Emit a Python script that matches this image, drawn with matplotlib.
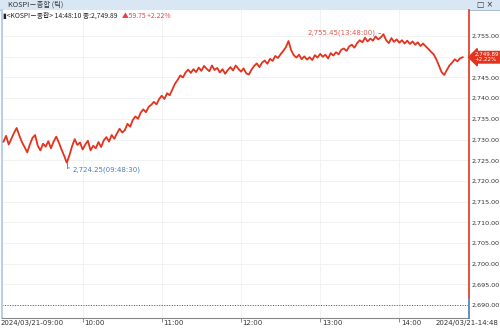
import matplotlib
matplotlib.use("Agg")
import matplotlib.pyplot as plt
from matplotlib.patches import Rectangle
from matplotlib.transforms import blended_transform_factory

# ---------------- data ----------------
start_time = "09:00"
step_minutes = 2
prices = [
    2729.5, 2730.9, 2728.8, 2730.2, 2731.6, 2732.8, 2731.0, 2729.4, 2728.2, 2726.9,  # 0-18
    2728.8, 2730.4, 2731.1, 2728.5, 2727.4, 2729.0, 2728.3, 2729.6, 2727.9, 2729.5,  # 20-38
    2730.7, 2729.3, 2727.6, 2726.1, 2724.4, 2726.2, 2728.4, 2730.1, 2728.7, 2729.3,  # 40-58
    2727.6, 2728.8, 2729.7, 2727.4, 2728.5, 2727.9, 2729.4, 2728.2, 2729.8, 2730.6,  # 60-78
    2729.5, 2731.1, 2730.2, 2731.5, 2732.6, 2731.7, 2732.3, 2733.8, 2733.1, 2734.7,  # 80-98
    2735.6, 2735.0, 2736.5, 2737.3, 2736.6, 2737.9, 2738.4, 2739.1, 2738.5, 2739.8,  # 100-118
    2740.6, 2739.8, 2741.2, 2740.7, 2742.1, 2743.5, 2744.4, 2745.5, 2745.0, 2746.2,  # 120-138
    2746.9, 2746.1, 2747.0, 2746.3, 2747.4, 2746.6, 2747.8, 2747.1, 2746.5, 2747.9,  # 140-158
    2746.8, 2747.3, 2746.2, 2747.0, 2745.9, 2746.8, 2747.5, 2746.7, 2747.9, 2747.1,  # 160-178
    2746.4, 2747.2, 2746.0, 2745.7, 2746.9, 2747.8, 2748.4, 2747.5, 2748.6, 2749.1,  # 180-198
    2748.3, 2749.5, 2749.0, 2750.2, 2749.7, 2750.6, 2751.4, 2752.3, 2753.8, 2751.6,  # 200-218
    2750.4, 2749.8, 2750.5, 2749.4, 2750.1, 2749.3, 2749.9, 2749.2, 2750.4, 2749.8,  # 220-238
    2750.7, 2750.0, 2750.5, 2749.6, 2750.9, 2750.3, 2751.1, 2750.6, 2751.7, 2752.0,  # 240-258
    2751.4, 2752.5, 2752.9, 2752.2, 2753.3, 2754.0, 2753.5, 2754.6, 2753.7, 2754.4,  # 260-278
    2753.9, 2754.9, 2754.2, 2754.7, 2755.45, 2754.0, 2753.3, 2754.5, 2753.6, 2754.2,  # 280-298
    2753.4, 2754.0, 2753.2, 2753.9, 2753.1, 2753.7, 2752.9, 2753.5, 2752.6, 2753.2,  # 300-318
    2752.5, 2751.9, 2751.2, 2750.6, 2749.4, 2747.9, 2746.3, 2745.6, 2746.8, 2747.9,  # 320-338
    2748.6, 2749.4, 2748.9, 2749.6, 2749.89,                                         # 340-348
]
max_label = "2,755.45(13:48:00)"
max_time, max_value = "13:48", 2755.45
min_label = "2,724.25(09:48:30)"
min_time, min_value = "09:48:30", 2724.25
hour_ticks = ["10:00", "11:00", "12:00", "13:00", "14:00"]
first_label = "2024/03/21-09:00"
last_label = "2024/03/21-14:48"
y_ticks = list(range(2690, 2760, 5))
hidden_y_tick = 2750  # covered by the current-price tag in the original
ref_level = 2690
title_text = "KOSPI－종합 (틱)"
info_black = "▮<KOSPI－종합> 14:48:10 종:2,749.89"
info_red = "▲59.75 +2.22%"
tag_text = "2,749.89\n+2.22%"


def to_min(s):
    parts = [int(p) for p in s.split(":")]
    while len(parts) < 3:
        parts.append(0)
    h0, m0 = [int(p) for p in start_time.split(":")]
    return (parts[0] - h0) * 60 + (parts[1] - m0) + parts[2] / 60.0


times = [i * step_minutes for i in range(len(prices))]

RED = "#e4321c"
BLUE = "#4d7cb8"
TXT = "#333333"
FS = 5.0
CJK = ["Noto Sans CJK KR", "DejaVu Sans"]
plt.rcParams["font.family"] = CJK

AX_BOTTOM = 12 / 330
AX_TOP = 1 - 10 / 330
fig = plt.figure(figsize=(5, 3.3), dpi=100)
ax = fig.add_axes([0.004, AX_BOTTOM, 0.934, AX_TOP - AX_BOTTOM])

ax.plot(times, prices, color=RED, lw=1.3, zorder=3)

ax.set_xlim(-1.1, 352.8)
ax.set_ylim(2686.9, 2761.3)

# grid
for yv in y_ticks:
    ax.axhline(yv, color="#eef0f3", lw=0.6, zorder=0)
for h in hour_ticks:
    ax.axvline(to_min(h), color="#eef0f3", lw=0.6, zorder=0)
ax.axhline(ref_level, color="#555555", lw=0.7, ls=(0, (1, 1.6)), zorder=1)

# right divider
ylo, yhi = ax.get_ylim()
frac = (ref_level + 1.8 - ylo) / (yhi - ylo)
ax.axvline(ax.get_xlim()[1], ymin=frac, ymax=1, color=RED, lw=1.2, zorder=4, clip_on=False)
ax.axvline(ax.get_xlim()[1], ymin=0, ymax=frac, color=BLUE, lw=1.2, zorder=4, clip_on=False)

# spines
for s in ["top", "right"]:
    ax.spines[s].set_visible(False)
ax.spines["left"].set_color("#b9cfe6")
ax.spines["left"].set_linewidth(1.5)
ax.spines["bottom"].set_color("#888888")
ax.spines["bottom"].set_linewidth(0.8)

# y ticks on right
ax.yaxis.tick_right()
ax.set_yticks(y_ticks)
ax.set_yticklabels(["" if v == hidden_y_tick else f"{v:,.2f}" for v in y_ticks],
                   fontsize=4.6, color=TXT, family="DejaVu Sans")
ax.tick_params(axis="y", length=0, pad=2.0)

# x ticks (labels drawn to the right of each tick)
ax.set_xticks([to_min(h) for h in hour_ticks])
ax.set_xticklabels([])
ax.tick_params(axis="x", length=3, width=0.6, color="#777777")
for h in hour_ticks:
    ax.annotate(h, xy=(to_min(h), 0), xycoords=("data", "axes fraction"),
                xytext=(1.2, -1.2), textcoords="offset points", ha="left", va="top",
                fontsize=FS, color=TXT, family="DejaVu Sans", annotation_clip=False)
lab_y = AX_BOTTOM - 1.7 / 330
fig.text(0.001, lab_y, first_label, fontsize=FS, color=TXT,
         ha="left", va="top", family="DejaVu Sans")
fig.text(0.997, lab_y, last_label, fontsize=FS, color=TXT,
         ha="right", va="top", family="DejaVu Sans")

# max / min annotations
mx = to_min(max_time)
ax.annotate(max_label, xy=(mx, max_value), xytext=(-6, 1), textcoords="offset points",
            ha="right", va="center", fontsize=FS, color="#e05a50", family="DejaVu Sans")
ax.annotate("", xy=(mx, max_value), xytext=(-5.5, 1), textcoords="offset points",
            arrowprops=dict(arrowstyle="-", color="#e05a50", lw=0.6))
mn = to_min(min_time)
ax.annotate(min_label, xy=(mn, min_value), xytext=(3.5, -4.5), textcoords="offset points",
            ha="left", va="center", fontsize=FS, color=BLUE, family="DejaVu Sans")
ax.plot([mn, mn], [min_value, min_value - 1.1], color=BLUE, lw=0.6, zorder=4)
ax.annotate("", xy=(mn, min_value - 1.1), xytext=(3.5, 0), textcoords="offset points",
            arrowprops=dict(arrowstyle="-", color=BLUE, lw=0.6))

# price tag
trans = blended_transform_factory(ax.transAxes, ax.transData)
ax.text(1.012, prices[-1], tag_text, transform=trans, ha="left", va="center",
        fontsize=4.0, color="white", linespacing=1.0, family="DejaVu Sans",
        bbox=dict(boxstyle="larrow,pad=0.14", fc=RED, ec=RED), zorder=6, clip_on=False)

# title bar
fig.patches.append(Rectangle((0, 1 - 10 / 330), 1, 10 / 330, transform=fig.transFigure,
                             fc="#d9e6f3", ec="none", zorder=-1))
fig.patches.append(Rectangle((0, 1 - 10.5 / 330), 1, 0.6 / 330, transform=fig.transFigure,
                             fc="#a9bfd6", ec="none", zorder=-1))
fig.text(8 / 500, 1 - 5 / 330, title_text, fontsize=5.3, color=TXT, va="center",
         family=CJK)
fig.text(477 / 500, 1 - 5 / 330, "□ ×", fontsize=5.5, color=TXT, va="center",
         family="DejaVu Sans")

# info line
t_black = fig.text(3 / 500, 1 - 15.5 / 330, info_black, fontsize=4.9, color="#222222",
                   va="center", family=CJK)
fig.canvas.draw()
bb = t_black.get_window_extent(renderer=fig.canvas.get_renderer())
x_red = fig.transFigure.inverted().transform((bb.x1 + 4, 0))[0]
fig.text(x_red, 1 - 15.5 / 330, info_red, fontsize=4.9, color="#e84040", va="center",
         family=CJK)

fig.savefig("out.png", dpi=100)
